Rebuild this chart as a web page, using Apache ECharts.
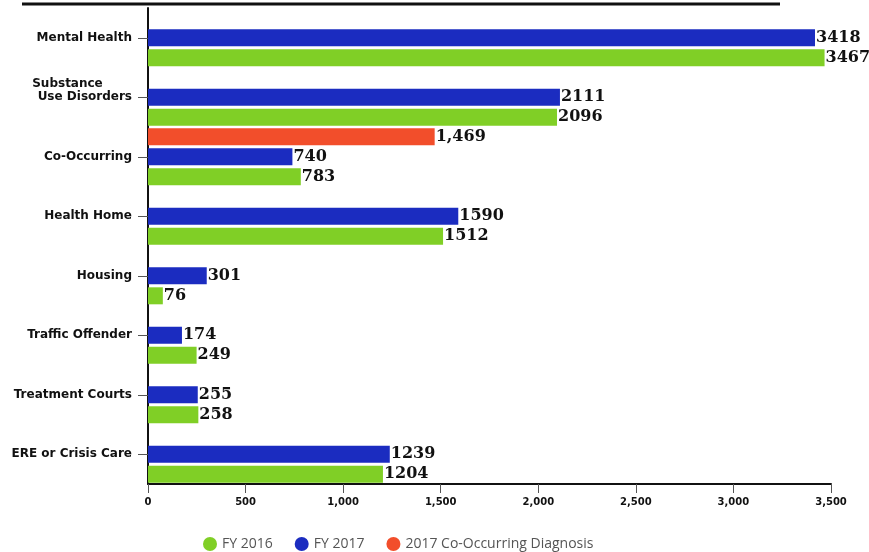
<!DOCTYPE html>
<html>
<head>
<meta charset="utf-8">
<script src="https://cdn.jsdelivr.net/npm/echarts@6/dist/echarts.min.js"></script>
<style>
  html, body { margin: 0; padding: 0; background: #fff; }
  #trend_chart { width: 869px; height: 552px; }
</style>
</head>
<body>
<div id="trend_chart"></div>
<script>
// categories, top to bottom
var categories = [
  'Mental Health',
  'Substance       \nUse Disorders\n ',
  'Co-Occurring',
  'Health Home',
  'Housing',
  'Traffic Offender',
  'Treatment Courts',
  'ERE or Crisis Care'
]
var fy2016 = [3467, 2096, 783, 1512, 76, 249, 258, 1204]
var fy2017 = [3418, 2111, 740, 1590, 301, 174, 255, 1239]
// only Co-Occurring has a value
var coDiagnosis = ['-', '-', 1469, '-', '-', '-', '-', '-']
var xTicks = { min: 0, max: 3500, interval: 500 }

var labelStyle = {
  show: true,
  position: 'right',
  distance: 1,
  color: '#111',
  fontFamily: 'DejaVu Serif',
  fontWeight: 'bold',
  fontSize: 16
}

var myChart = echarts.init(document.getElementById('trend_chart'))
var option = {
  animation: false,
  color: ['#f24e2b', '#1b2cc0', '#80cf26'],
  graphic: [
    {
      // underline of the cut-off title
      type: 'line',
      shape: { x1: 22, y1: 4, x2: 780, y2: 4 },
      style: { stroke: '#111', lineWidth: 3 }
    }
  ],
  legend: {
    bottom: -4,
    left: 198,
    icon: 'circle',
    itemWidth: 14,
    itemHeight: 14,
    itemGap: 22,
    itemStyle: { borderWidth: 0 },
    data: ['FY 2016', 'FY 2017', '2017 Co-Occurring Diagnosis'],
    textStyle: { color: '#555', fontFamily: 'Open Sans', fontSize: 14 }
  },
  grid: {
    left: 148,
    right: 38,
    top: 8,
    bottom: 68,
    containLabel: false
  },
  xAxis: {
    type: 'value',
    min: xTicks.min,
    max: xTicks.max,
    interval: xTicks.interval,
    axisLine: { show: true, lineStyle: { color: '#111', width: 2 }},
    axisTick: { show: true, length: 9, lineStyle: { color: '#555' }},
    splitLine: { show: false },
    axisLabel: {
      color: '#111',
      fontFamily: 'DejaVu Sans',
      fontWeight: 'bold',
      fontSize: 10,
      margin: 13,
      formatter: function(v) {
        return v.toLocaleString('en-US')
      }
    }
  },
  yAxis: {
    type: 'category',
    inverse: true,
    data: categories,
    axisLine: { show: true, lineStyle: { color: '#111', width: 2 }},
    axisTick: { show: true, alignWithLabel: true, length: 10, lineStyle: { color: '#555' }},
    axisLabel: {
      color: '#111',
      fontFamily: 'DejaVu Sans',
      fontWeight: 'bold',
      fontSize: 12,
      margin: 16,
      lineHeight: 13
    }
  },
  series: [
    {
      name: '2017 Co-Occurring Diagnosis',
      type: 'bar',
      data: coDiagnosis,
      barWidth: 17,
      barGap: '18%',
      label: Object.assign({}, labelStyle, {
        formatter: function(p) {
          return p.value.toLocaleString('en-US')
        }
      })
    },
    {
      name: 'FY 2017',
      type: 'bar',
      data: fy2017,
      barWidth: 17,
      barGap: '18%',
      label: labelStyle
    },
    {
      name: 'FY 2016',
      type: 'bar',
      data: fy2016,
      barWidth: 17,
      barGap: '18%',
      label: labelStyle
    }
  ]
}
myChart.setOption(option)
</script>
</body>
</html>
